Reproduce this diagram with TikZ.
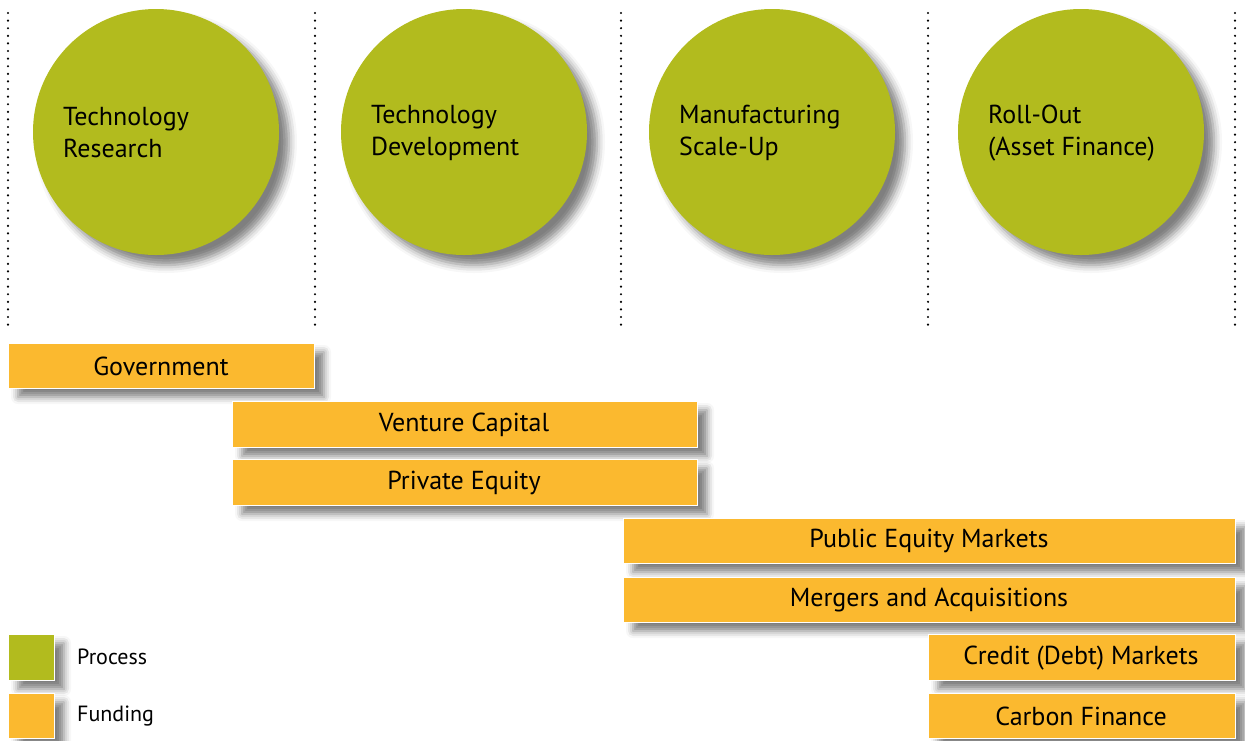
\documentclass[tikz,border=0pt]{standalone}
\usepackage{fontspec}
\setmainfont{PT Sans}
\usetikzlibrary{shadows.blur,calc}
\definecolor{procgreen}{HTML}{B2BB1E}
\definecolor{fundorange}{HTML}{FBB92F}
\begin{document}
\begin{tikzpicture}[x=1pt,y=-1pt,
  proc/.style={circle,fill=procgreen,minimum size=246pt,inner sep=0pt,
    blur shadow={shadow xshift=10pt,shadow yshift=-10pt,shadow blur radius=8pt,shadow opacity=50}},
  proclabel/.style={anchor=west,align=left,font=\fontsize{26}{32}\selectfont,inner sep=0pt},
  fund/.style={fill=fundorange,draw=white,line width=1pt,
    blur shadow={shadow xshift=10pt,shadow yshift=-9pt,shadow blur radius=7pt,shadow opacity=50}},
  fundlabel/.style={font=\fontsize{26}{30}\selectfont,inner sep=0pt},
  sep/.style={line width=2.4pt,line cap=round,dash pattern=on 0pt off 7.6pt,black},
  legtext/.style={anchor=west,font=\fontsize{22}{26}\selectfont,inner sep=0pt}]
\useasboundingbox (0,0) rectangle (1245,740);
% separators
\foreach \x/\n in {8/a,315/b,621/c,928/d,1235/e}{
  \coordinate (t\n) at (\x,13);
  \coordinate (b\n) at (\x,328);
  \draw[sep] (t\n) -- (b\n);
}
% process circles
\node[proc] (c1) at (156,132) {};
\node[proc] (c2) at (464,132) {};
\node[proc] (c3) at (772,132) {};
\node[proc] (c4) at (1081,132) {};
\node[proclabel] (l1) at ($(c1.center)+(-93,1)$) {Technology\\Research};
\node[proclabel] (l2) at ($(c2.center)+(-93,1)$) {Technology\\Development};
\node[proclabel] (l3) at ($(c3.center)+(-93,1)$) {Manufacturing\\Scale-Up};
\node[proclabel] (l4) at ($(c4.center)+(-93,1)$) {Roll-Out\\(Asset Finance)};
% funding bars
\draw[fund] (8,343) rectangle (314,388);
\node[fundlabel] (gov) at (161,366) {Government};
\draw[fund] (232,401) rectangle (697,447);
\node[fundlabel] (vc) at (464,425) {Venture Capital};
\draw[fund] (232,459) rectangle (697,505);
\node[fundlabel] (pe) at (464,483) {Private Equity};
\draw[fund] (623,518) rectangle (1235,563);
\node[fundlabel] (pem) at (929,541) {Public Equity Markets};
\draw[fund] (623,577) rectangle (1235,622);
\node[fundlabel] (ma) at (929,600) {Mergers and Acquisitions};
\draw[fund] (928,634) rectangle (1235,680);
\node[fundlabel] (cdm) at (1081,658) {Credit (Debt) Markets};
\draw[fund] (928,693) rectangle (1235,738);
\node[fundlabel] (cf) at (1081,716) {Carbon Finance};
% legend
\draw[fund,fill=procgreen] (8,634) rectangle (54,680);
\draw[fund] (8,693) rectangle (54,738);
\node[legtext] (lp) at (77,657) {Process};
\node[legtext] (lf) at (77,716) {Funding};
\end{tikzpicture}
\end{document}
